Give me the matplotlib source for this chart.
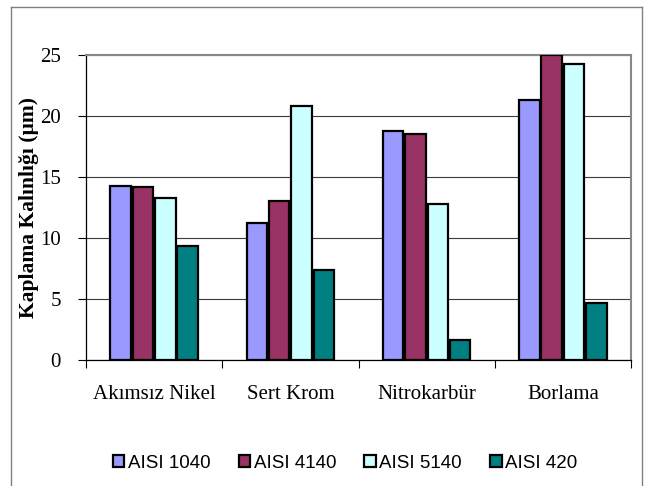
import matplotlib
matplotlib.use("Agg")
import matplotlib.pyplot as plt
from matplotlib.patches import Patch
from matplotlib.lines import Line2D
import numpy as np

# Coating thickness per process and steel grade
categories = ["Akımsız Nikel", "Sert Krom", "Nitrokarbür", "Borlama"]
series_names = ["AISI 1040", "AISI 4140", "AISI 5140", "AISI 420"]
aisi_1040 = [14.3, 11.2, 18.8, 21.3]
aisi_4140 = [14.15, 13.0, 18.5, 25.0]
aisi_5140 = [13.25, 20.85, 12.75, 24.3]
aisi_420 = [9.35, 7.4, 1.65, 4.65]
y_ticks = [0, 5, 10, 15, 20, 25]

series_values = [aisi_1040, aisi_4140, aisi_5140, aisi_420]
colors = ["#9999FF", "#993366", "#CCFFFF", "#008080"]

W, H = 646, 486
fig = plt.figure(figsize=(W / 100, H / 100), dpi=100)

# outer chart frame
frame_kw = dict(color="#808080", lw=1.0, transform=fig.transFigure)
x0, x1 = 11 / W, 642 / W
yt = 1 - 7 / H
fig.add_artist(Line2D([x0, x0], [0, yt], **frame_kw))
fig.add_artist(Line2D([x0, x1], [yt, yt], **frame_kw))
fig.add_artist(Line2D([x1, x1], [0, yt], **frame_kw))

ax = fig.add_axes([86 / W, 1 - 360 / H, (631 - 86) / W, (360 - 55) / H])

x = np.arange(len(categories))
stride = 0.164
width = 0.15
for j, (vals, col, name) in enumerate(zip(series_values, colors, series_names)):
    offs = (j - 1.5) * stride
    ax.bar(x + offs, vals, width=width, color=col, edgecolor="black",
           linewidth=1.6, label=name, zorder=3)

ax.set_xlim(-0.5, len(categories) - 0.5)
ax.set_ylim(0, 25)

ax.set_yticks(y_ticks)
ax.set_yticklabels([str(t) for t in y_ticks], fontfamily="Liberation Serif",
                   fontsize=15)
ax.tick_params(axis="y", direction="out", length=6, width=0.8, pad=12,
               color="black")
ax.yaxis.grid(True, color="#3a3a3a", lw=0.8, zorder=0)

# boundary ticks between categories, labels at the centers
ax.set_xticks(np.arange(-0.5, len(categories), 1.0))
ax.set_xticklabels([])
ax.tick_params(axis="x", which="major", direction="out", length=6, width=0.8)
ax.set_xticks(x, minor=True)
ax.set_xticklabels(categories, minor=True, fontfamily="Liberation Serif",
                   fontsize=15)
ax.tick_params(axis="x", which="minor", length=0, pad=18)

for s in ("top", "right"):
    ax.spines[s].set_color("#888888")
    ax.spines[s].set_linewidth(1.5)
for s in ("left", "bottom"):
    ax.spines[s].set_color("black")
    ax.spines[s].set_linewidth(0.9)

fig.text(29 / W, 1 - 207 / H, "Kaplama Kalınlığı (µm)", rotation=90,
         ha="center", va="center", fontfamily="Liberation Serif",
         fontweight="bold", fontsize=15.5)

handles = [Patch(facecolor=c, edgecolor="black", lw=1.6) for c in colors]
fig.legend(handles, series_names, loc="center", ncol=4,
           bbox_to_anchor=(345 / W, 1 - 463 / H), frameon=False,
           prop={"family": "Liberation Sans", "size": 13.5},
           handlelength=0.62, handleheight=0.62, handletextpad=0.18,
           columnspacing=1.5, borderaxespad=0)

fig.savefig("out.png", dpi=100)
